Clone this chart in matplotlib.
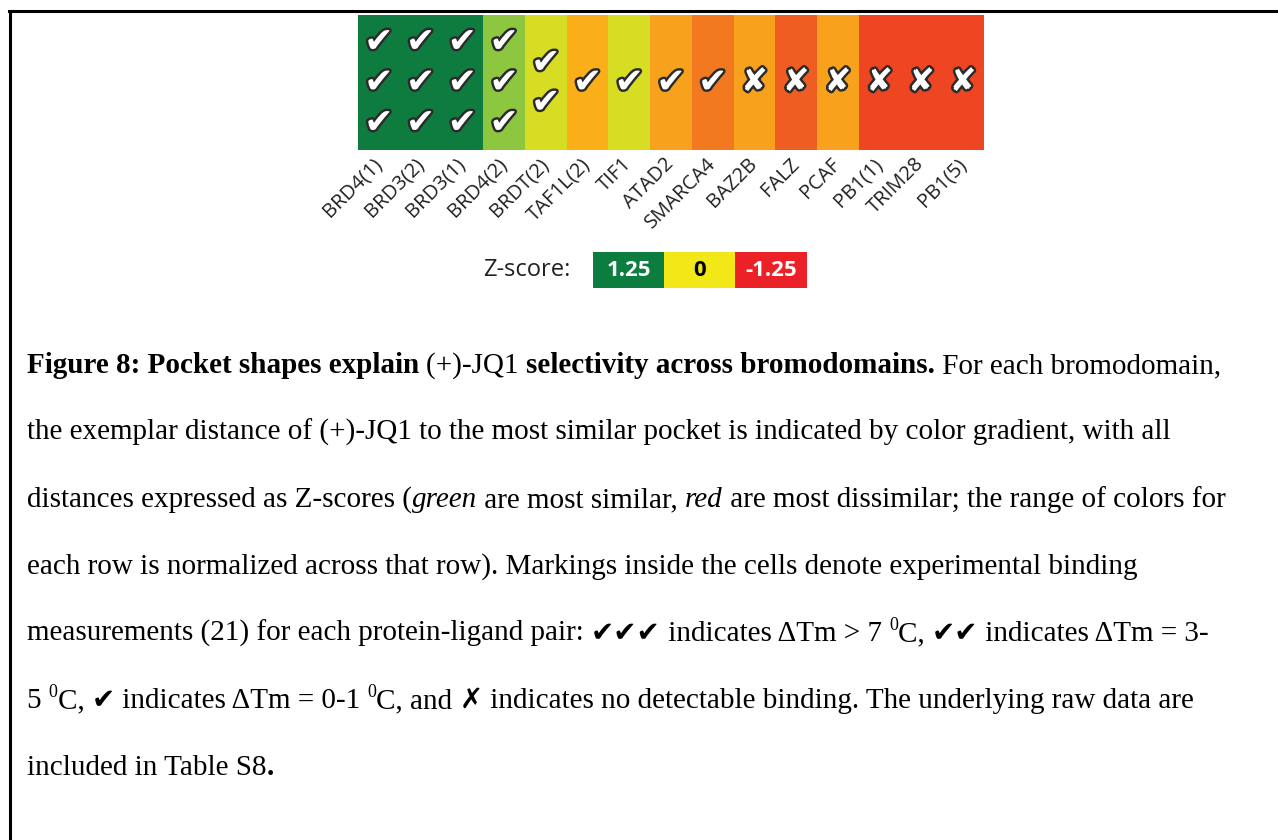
import matplotlib
matplotlib.use("Agg")
import numpy as np
import matplotlib.pyplot as plt
import matplotlib.patheffects as pe
from matplotlib.colors import LinearSegmentedColormap, ListedColormap
from matplotlib.lines import Line2D

# Podatki (odčitani s slike)
domains = ['BRD4(1)', 'BRD3(2)', 'BRD3(1)', 'BRD4(2)', 'BRDT(2)', 'TAF1L(2)', 'TIF1',
           'ATAD2', 'SMARCA4', 'BAZ2B', 'FALZ', 'PCAF', 'PB1(1)', 'TRIM28', 'PB1(5)']
zscores = [1.25, 1.25, 1.25, 0.75, 0.35, -0.15, 0.35,
           -0.3, -0.6, -0.3, -0.85, -0.3, -1.1, -1.1, -1.1]
binding = [3, 3, 3, 3, 2, 1, 1, 1, 1, 0, 0, 0, 0, 0, 0]   # 0 = no detectable binding
scale_values = [1.25, 0, -1.25]
scale_labels = ['1.25', '0', '-1.25']

W, H = 1278, 840
fig = plt.figure(figsize=(W / 100, H / 100), dpi=100)
fig.patch.set_facecolor('white')

# barvna lestvica (rdeca -> oranzna -> rumena -> zelena)
cmap = LinearSegmentedColormap.from_list('pocket', [
    (0.00, '#EE4023'), (0.06, '#EE4623'), (0.16, '#F15E22'), (0.26, '#F47A20'),
    (0.38, '#F7A11E'), (0.44, '#FBB018'), (0.64, '#D6DE23'), (0.80, '#8DC63F'),
    (1.00, '#0E7C3E')])

# heatmap
ax = fig.add_axes([358 / W, 1 - 150 / H, 626 / W, 135 / H])
n = len(domains)
ax.imshow(np.array([zscores]), cmap=cmap, vmin=-1.25, vmax=1.25, aspect='auto',
          extent=[-0.5, n - 0.5, 0, 1])
ax.set_xlim(-0.5, n - 0.5)
ax.set_ylim(0, 1)
ax.set_xticks(range(n))
ax.set_xticklabels(domains, rotation=45, ha='right', va='center', rotation_mode='anchor',
                   fontsize=14.5, family='Open Sans', color='#231F20')
ax.tick_params(length=0, pad=8)
ax.set_yticks([])
for s in ax.spines.values():
    s.set_visible(False)

# oznake vezave v celicah
rows = {3: [0.80, 0.50, 0.20], 2: [0.645, 0.35], 1: [0.50]}
outline = [pe.withStroke(linewidth=3.5, foreground='#2B2B2B')]
for i, b in enumerate(binding):
    if b == 0:
        ax.text(i, 0.5, '\u2718', color='white', fontsize=23, ha='center', va='center',
                family='DejaVu Sans', path_effects=outline)
    else:
        for y in rows[b]:
            ax.text(i, y, '\u2714', color='white', fontsize=25, ha='center', va='center',
                    family='DejaVu Sans', path_effects=outline)

# legenda Z-score
fig.text(483 / W, 1 - 270 / H, 'Z-score:', ha='left', va='center', fontsize=17,
         family='Open Sans', color='#231F20')
lax = fig.add_axes([593 / W, 1 - 288 / H, 214 / W, 36 / H])
lax.imshow(np.array([scale_values]), cmap=ListedColormap(['#EC2027', '#F2E817', '#0B7D3E']),
           vmin=-1.25, vmax=1.25, aspect='auto')
for j, lab in enumerate(scale_labels):
    lax.text(j, 0, lab, ha='center', va='center', fontsize=16, fontweight='bold',
             family='Open Sans', color='black' if lab == '0' else 'white')
lax.set_xticks([])
lax.set_yticks([])
for s in lax.spines.values():
    s.set_visible(False)

# okvir
fig.add_artist(Line2D([9 / W, 1], [1 - 11 / H] * 2, color='black', lw=2.2))
fig.add_artist(Line2D([10 / W] * 2, [1 - 11 / H, 0], color='black', lw=2.2))

# napis pod sliko
renderer = fig.canvas.get_renderer()
base = dict(family='Liberation Serif', fontsize=21, color='black')
bold = dict(base, weight='bold')
ital = dict(base, style='italic')
sym = dict(family='DejaVu Sans', fontsize=20, weight='bold', color='black')
sup = dict(family='Liberation Serif', fontsize=13, color='black', dy=11)


def text_width(txt, kw):
    kw = {k: v for k, v in kw.items() if k != 'dy'}
    a = fig.text(0, 0, '|' + txt + '|', **kw)
    b = fig.text(0, 0, '||', **kw)
    w = a.get_window_extent(renderer).width - b.get_window_extent(renderer).width
    a.remove()
    b.remove()
    return w


def draw_line(y, segments, x=27):
    for txt, kw in segments:
        dy = kw.get('dy', 0)
        k = {kk: v for kk, v in kw.items() if kk != 'dy'}
        fig.text(x / W, 1 - (y - dy) / H, txt, ha='left', va='baseline', **k)
        x += text_width(txt, kw)


lines = [
    [('Figure 8: Pocket shapes explain ', bold), ('(+)-JQ1 ', base),
     ('selectivity across bromodomains.', bold), (' For each bromodomain,', base)],
    [('the exemplar distance of (+)-JQ1 to the most similar pocket is indicated by color gradient, with all', base)],
    [('distances expressed as Z-scores (', base), ('green', ital), (' are most similar, ', base),
     ('red', ital), (' are most dissimilar; the range of colors for', base)],
    [('each row is normalized across that row). Markings inside the cells denote experimental binding', base)],
    [('measurements (21) for each protein-ligand pair: ', base), ('\u2714\u2714\u2714', sym),
     (' indicates \u0394Tm > 7 ', base), ('0', sup), ('C, ', base), ('\u2714\u2714', sym),
     (' indicates \u0394Tm = 3-', base)],
    [('5 ', base), ('0', sup), ('C, ', base), ('\u2714', sym), (' indicates \u0394Tm = 0-1 ', base),
     ('0', sup), ('C, and ', base), ('\u2717', sym),
     (' indicates no detectable binding. The underlying raw data are', base)],
    [('included in Table S8', base), ('.', bold)],
]

for k, seg in enumerate(lines):
    draw_line(373 + 67 * k, seg)

fig.savefig('out.png', dpi=100)
